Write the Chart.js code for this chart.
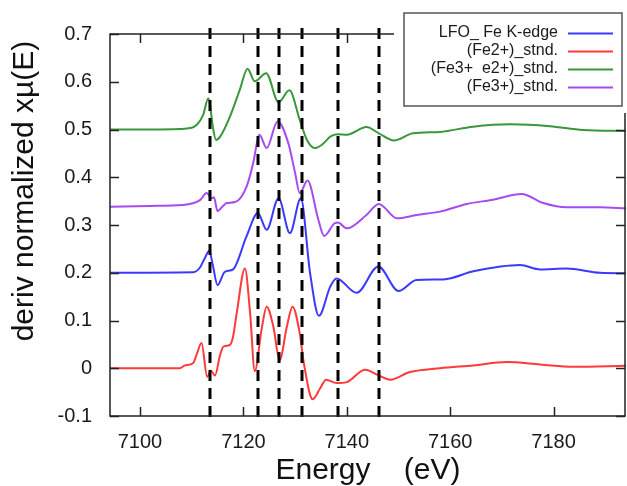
<!DOCTYPE html>
<html>
<head>
<meta charset="utf-8">
<script src="https://cdn.jsdelivr.net/npm/chart.js@4"></script>
<style>
  body { margin: 0; background: #fff; }
  #wrap { width: 627px; height: 486px; }
</style>
</head>
<body>
<div id="wrap"><canvas id="xanes-chart" width="627" height="486"></canvas></div>
<script>
// axis ticks and titles
var xTickValues = [7100, 7120, 7140, 7160, 7180];
var yTickValues = [-0.1, 0, 0.1, 0.2, 0.3, 0.4, 0.5, 0.6, 0.7];
var yTickLabels = ["-0.1", "0", "0.1", "0.2", "0.3", "0.4", "0.5", "0.6", "0.7"];
var xAxisTitle = "Energy    (eV)";
var yAxisTitle = "deriv normalized xµ(E)";

// energies of the dashed guide lines (eV)
var dashEnergy = [7113.5, 7122.8, 7126.9, 7131.3, 7138.3, 7146.2];

// LFO_ Fe K-edge (blue)
var lfoEnergy = [7094.2, 7110.3, 7111.6, 7112.6, 7113.4, 7114.1, 7115.0, 7116.4, 7118.0, 7120.6, 7122.8, 7124.5, 7126.8, 7129.0, 7131.1, 7132.9, 7134.6, 7136.8, 7138.0, 7141.9, 7146.1, 7150.0, 7153.5, 7158.7, 7164.5, 7173.5, 7177.4, 7182.5, 7189.0, 7194.0];
var lfoValue = [0.200, 0.201, 0.211, 0.232, 0.246, 0.215, 0.174, 0.202, 0.207, 0.276, 0.325, 0.290, 0.356, 0.283, 0.356, 0.199, 0.110, 0.171, 0.188, 0.158, 0.213, 0.162, 0.185, 0.186, 0.203, 0.216, 0.207, 0.209, 0.200, 0.199];

// (Fe2+)_stnd. (red)
var fe2Energy = [7094.2, 7107.7, 7108.7, 7110.3, 7111.0, 7111.9, 7113.0, 7113.7, 7114.5, 7115.5, 7116.1, 7117.4, 7118.0, 7118.7, 7120.3, 7121.3, 7122.2, 7123.5, 7124.5, 7125.8, 7127.0, 7128.4, 7129.5, 7130.9, 7131.7, 7133.4, 7134.8, 7136.0, 7138.0, 7140.0, 7143.5, 7146.2, 7148.4, 7152.2, 7158.0, 7164.5, 7170.9, 7177.4, 7183.8, 7194.0];
var fe2Value = [0.000, 0.000, 0.006, 0.011, 0.030, 0.053, -0.018, -0.005, -0.015, 0.028, 0.045, 0.049, 0.066, 0.115, 0.209, 0.115, -0.006, 0.080, 0.129, 0.087, 0.017, 0.087, 0.129, 0.073, 0.010, -0.065, -0.043, -0.024, -0.031, -0.029, -0.003, -0.015, -0.024, -0.008, 0.000, 0.006, 0.013, 0.008, 0.003, 0.005];

// (Fe3+  e2+)_stnd. (green)
var mixEnergy = [7094.2, 7101.9, 7107.7, 7109.7, 7111.0, 7112.2, 7113.2, 7113.5, 7114.1, 7114.7, 7115.5, 7117.4, 7119.3, 7120.8, 7122.2, 7124.4, 7126.8, 7128.9, 7130.9, 7132.3, 7133.8, 7135.4, 7136.8, 7138.2, 7140.0, 7143.8, 7146.2, 7149.1, 7152.8, 7158.0, 7164.4, 7171.6, 7179.3, 7185.7, 7194.0];
var mixValue = [0.500, 0.500, 0.501, 0.503, 0.510, 0.530, 0.565, 0.555, 0.505, 0.478, 0.485, 0.527, 0.583, 0.627, 0.601, 0.618, 0.557, 0.582, 0.520, 0.478, 0.461, 0.470, 0.485, 0.490, 0.489, 0.505, 0.492, 0.477, 0.492, 0.495, 0.506, 0.511, 0.507, 0.499, 0.497];

// (Fe3+)_stnd. (purple)
var fe3Energy = [7094.2, 7101.9, 7108.3, 7111.6, 7112.9, 7113.9, 7114.3, 7115.0, 7115.9, 7116.8, 7118.4, 7120.6, 7121.9, 7123.1, 7124.5, 7126.6, 7128.7, 7130.0, 7130.9, 7132.4, 7134.5, 7135.6, 7137.7, 7138.3, 7140.0, 7143.8, 7146.2, 7149.7, 7153.5, 7158.0, 7163.2, 7168.3, 7173.8, 7178.0, 7182.5, 7189.0, 7194.0];
var fe3Value = [0.338, 0.340, 0.342, 0.352, 0.367, 0.356, 0.358, 0.329, 0.338, 0.346, 0.348, 0.380, 0.430, 0.489, 0.461, 0.517, 0.471, 0.409, 0.367, 0.393, 0.311, 0.277, 0.304, 0.305, 0.293, 0.321, 0.344, 0.314, 0.321, 0.328, 0.344, 0.353, 0.365, 0.346, 0.337, 0.337, 0.335];

function toPoints(xs, ys) {
  return xs.map(function (x, i) { return { x: x, y: ys[i] }; });
}

document.addEventListener("DOMContentLoaded", function () {
  var ctx = document.getElementById("xanes-chart").getContext("2d");
  var fontFamily = "'Liberation Sans', Arial, sans-serif";

  var lineOptions = {
    borderWidth: 2,
    pointRadius: 0,
    cubicInterpolationMode: "monotone",
    fill: false,
  };

  // frame with inward ticks, dashed guides, y title and a gnuplot style key
  var decorations = {
    id: "decorations",
    afterDatasetsDraw: function (chart) {
      var c = chart.ctx;
      var area = chart.chartArea;
      var xs = chart.scales.x;
      var ys = chart.scales.y;
      c.save();

      // dashed guide lines
      c.strokeStyle = "#000";
      c.lineWidth = 3;
      c.setLineDash([11, 7]);
      dashEnergy.forEach(function (e) {
        var px = Math.round(xs.getPixelForValue(e));
        c.beginPath();
        c.moveTo(px, area.top - 6);
        c.lineTo(px, area.bottom + 5);
        c.stroke();
      });
      c.setLineDash([]);

      // frame
      c.strokeStyle = "#222";
      c.lineWidth = 1.5;
      c.strokeRect(area.left, area.top, area.right - area.left - 1, area.bottom - area.top);

      // inward ticks on all sides
      var len = 9;
      c.beginPath();
      xs.ticks.forEach(function (t) {
        var px = Math.round(xs.getPixelForValue(t.value)) + 0.5;
        c.moveTo(px, area.bottom);
        c.lineTo(px, area.bottom - len);
        c.moveTo(px, area.top);
        c.lineTo(px, area.top + len);
      });
      ys.ticks.forEach(function (t) {
        var py = Math.round(ys.getPixelForValue(t.value)) + 0.5;
        c.moveTo(area.left, py);
        c.lineTo(area.left + len, py);
        c.moveTo(area.right - 1, py);
        c.lineTo(area.right - 1 - len, py);
      });
      c.stroke();

      // y axis title, sitting a bit above the middle like the original
      c.save();
      c.translate(25, 191);
      c.rotate(-Math.PI / 2);
      c.font = "30px " + fontFamily;
      c.fillStyle = "#111";
      c.textAlign = "center";
      c.textBaseline = "middle";
      c.fillText(yAxisTitle, 0, 0);
      c.restore();

      // key
      var box = { left: 404, top: 13, right: 622, bottom: 106 };
      c.fillStyle = "#fff";
      c.fillRect(box.left - 10, box.top - 10, box.right - box.left + 20, box.bottom - box.top + 17);
      c.strokeStyle = "#555";
      c.lineWidth = 1.5;
      c.strokeRect(box.left, box.top, box.right - box.left, box.bottom - box.top);

      c.font = "16px " + fontFamily;
      c.textAlign = "right";
      c.textBaseline = "middle";
      var rowY = [33, 51, 69, 87];
      chart.data.datasets.forEach(function (ds, i) {
        c.fillStyle = "#1a1a1a";
        c.fillText(ds.label, 558, rowY[i]);
        c.strokeStyle = ds.borderColor;
        c.lineWidth = 2;
        c.beginPath();
        c.moveTo(568, rowY[i] + 0.5);
        c.lineTo(613, rowY[i] + 0.5);
        c.stroke();
      });
      c.restore();
    },
  };

  new Chart(ctx, {
    type: "line",
    data: {
      datasets: [
        {
          label: "LFO_ Fe K-edge",
          data: toPoints(lfoEnergy, lfoValue),
          ...lineOptions,
          borderColor: "#3a3aff",
        },
        {
          label: "(Fe2+)_stnd.",
          data: toPoints(fe2Energy, fe2Value),
          ...lineOptions,
          borderColor: "#ff3a3a",
        },
        {
          label: "(Fe3+  e2+)_stnd.",
          data: toPoints(mixEnergy, mixValue),
          ...lineOptions,
          borderColor: "#3a963a",
        },
        {
          label: "(Fe3+)_stnd.",
          data: toPoints(fe3Energy, fe3Value),
          ...lineOptions,
          borderColor: "#a64bf0",
        },
      ],
    },
    options: {
      responsive: false,
      animation: false,
      layout: { padding: { top: 34, right: 1, left: 0, bottom: 0 } },
      plugins: {
        legend: { display: false },
        tooltip: { enabled: false },
      },
      scales: {
        x: {
          type: "linear",
          min: 7094.2,
          max: 7194,
          grid: { display: false },
          border: { display: false },
          afterBuildTicks: function (s) {
            s.ticks = xTickValues.map(function (v) { return { value: v }; });
          },
          afterFit: function (s) { s.height = 70; },
          ticks: {
            padding: 6,
            color: "#1a1a1a",
            font: { family: fontFamily, size: 20 },
            callback: function (value) { return String(value); },
          },
          title: {
            display: true,
            text: xAxisTitle,
            color: "#111",
            padding: { top: 0, bottom: 0 },
            font: { family: fontFamily, size: 30, lineHeight: 1 },
          },
        },
        y: {
          min: -0.1,
          max: 0.7,
          grid: { display: false },
          border: { display: false },
          afterBuildTicks: function (s) {
            s.ticks = yTickValues.map(function (v) { return { value: v }; });
          },
          afterFit: function (s) { s.width = 110; },
          ticks: {
            padding: 10,
            color: "#1a1a1a",
            font: { family: fontFamily, size: 20 },
            callback: function (value, index) { return yTickLabels[index]; },
          },
        },
      },
    },
    plugins: [decorations],
  });
});
</script>
</body>
</html>
